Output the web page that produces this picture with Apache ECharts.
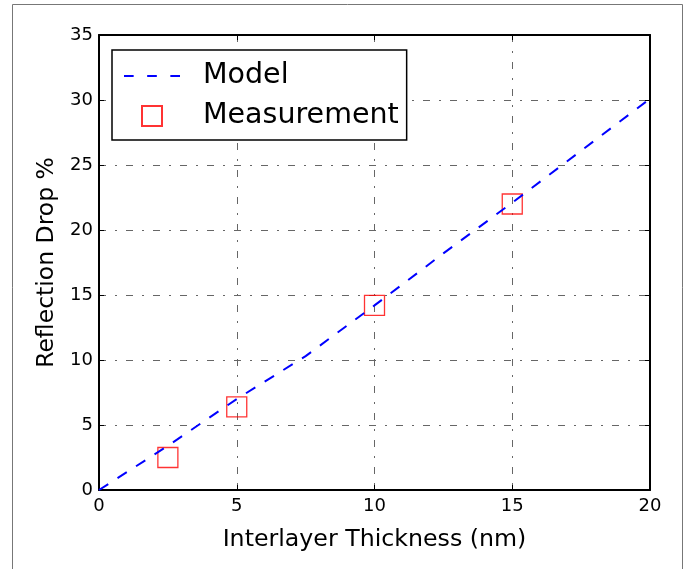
<!DOCTYPE html>
<html>
<head>
<meta charset="utf-8">
<script src="https://cdn.jsdelivr.net/npm/echarts@6/dist/echarts.min.js"></script>
<style>
  html, body { margin: 0; padding: 0; background: #fff; }
  #chart { width: 688px; height: 569px; }
</style>
</head>
<body>
<div id="chart"></div>
<script>
// model curve
const modelX = [0, 2.5, 5, 7.5, 10, 12.5, 15, 17.5, 20]
const modelY = [0, 3.4, 7.0, 10.3, 14.2, 18.2, 22.1, 26.1, 30.1]
// measured points
const measX = [2.5, 5, 10, 15]
const measY = [2.5, 6.4, 14.2, 22.0]

const font = 'DejaVu Sans'
const gridLine = { show: true, lineStyle: { color: '#666', width: 1, type: [7, 9, 2, 9] } }
const tick = { show: true, inside: true, length: 5, lineStyle: { color: '#000', width: 1 } }
const frame = { show: true, onZero: false, lineStyle: { color: '#000', width: 2 } }

const chart = echarts.init(document.getElementById('chart'))

const pair = (xs, ys) => xs.map((x, i) => [x, ys[i]])

chart.setOption({
  animation: false,
  textStyle: { fontFamily: font },
  graphic: [{
    type: 'rect',
    shape: { x: 12.5, y: 4.5, width: 670, height: 600 },
    style: { fill: 'none', stroke: '#777', lineWidth: 1 },
    silent: true,
    z: -10
  }],
  grid: { left: 99, right: 38, top: 35, bottom: 79 },
  legend: {
    orient: 'vertical',
    left: 112,
    top: 50,
    padding: [11, 8, 9, 12],
    itemGap: 10,
    itemWidth: 56,
    itemHeight: 20,
    symbolKeepAspect: true,
    borderColor: '#000',
    borderWidth: 1.5,
    backgroundColor: '#fff',
    borderRadius: 0,
    textStyle: { fontFamily: font, fontSize: 28.5, color: '#000', padding: [0, 0, 0, 18], lineHeight: 30 },
    data: [
      { name: 'Model', icon: 'path://M0,0h10v2h-10zM24,0h10v2h-10zM48,0h10v2h-10z' },
      { name: 'Measurement', icon: 'path://M0,0h20v20h-20z' }
    ]
  },
  xAxis: [{
    type: 'value',
    min: 0, max: 20, interval: 5,
    name: 'Interlayer Thickness (nm)',
    nameLocation: 'middle',
    nameGap: 38,
    nameTextStyle: { fontSize: 23.7, color: '#000', fontFamily: font },
    axisLine: frame,
    axisTick: tick,
    axisLabel: { fontSize: 18, color: '#000', margin: 7, fontFamily: font },
    splitLine: gridLine
  }, {
    type: 'value',
    position: 'top',
    min: 0, max: 20, interval: 5,
    axisLine: frame,
    axisTick: tick,
    axisLabel: { show: false },
    splitLine: { show: false }
  }],
  yAxis: [{
    type: 'value',
    min: 0, max: 35, interval: 5,
    name: 'Reflection Drop %',
    nameLocation: 'middle',
    nameGap: 40,
    nameTextStyle: { fontSize: 23.5, color: '#000', fontFamily: font },
    axisLine: frame,
    axisTick: tick,
    axisLabel: { fontSize: 18, color: '#000', margin: 6, fontFamily: font },
    splitLine: gridLine
  }, {
    type: 'value',
    position: 'right',
    min: 0, max: 35, interval: 5,
    axisLine: frame,
    axisTick: tick,
    axisLabel: { show: false },
    splitLine: { show: false }
  }],
  series: [{
    name: 'Model',
    type: 'line',
    data: pair(modelX, modelY),
    showSymbol: false,
    symbol: 'none',
    lineStyle: { color: '#0000ff', width: 2, type: [11, 11] },
    itemStyle: { color: '#0000ff' },
    z: 3
  }, {
    name: 'Measurement',
    type: 'scatter',
    data: pair(measX, measY),
    symbol: 'rect',
    symbolSize: 20,
    itemStyle: { color: 'rgba(0,0,0,0)', borderColor: '#ff0000', borderWidth: 1.3 },
    z: 2
  }]
})
</script>
</body>
</html>
